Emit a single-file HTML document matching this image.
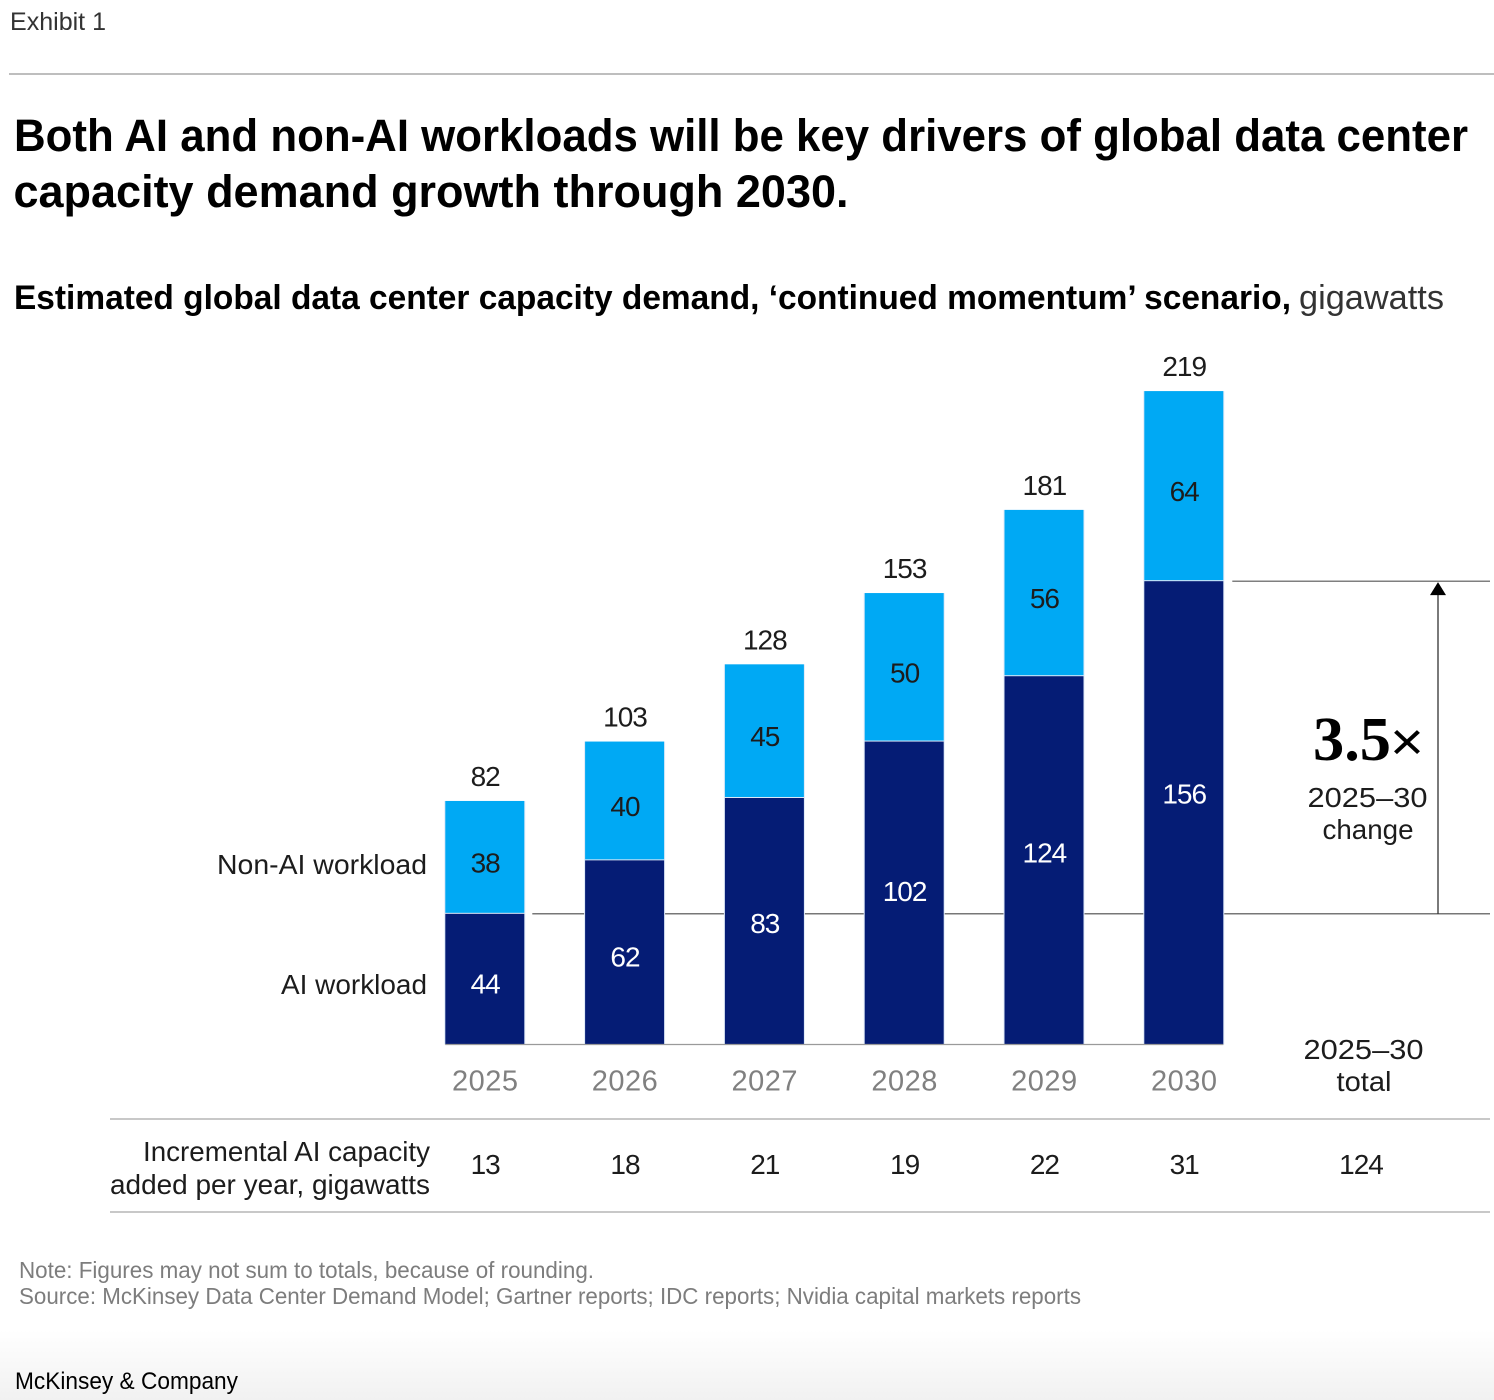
<!DOCTYPE html>
<html lang="en">
<head>
<meta charset="utf-8">
<title>Exhibit 1</title>
<style>
html,body{margin:0;padding:0;background:#fff;width:1494px;height:1400px;overflow:hidden}
svg{display:block;font-family:"Liberation Sans",sans-serif}
text{fill:#1c1c1c}
.num{font-size:28px;letter-spacing:-1px;text-anchor:middle}
.lbl{font-size:28px}
</style>
</head>
<body>
<svg id="chart" width="1494" height="1400" viewBox="0 0 1494 1400" xmlns="http://www.w3.org/2000/svg">
<defs>
<linearGradient id="fade" x1="0" y1="0" x2="0" y2="1"><stop offset="0" stop-color="#fff"/><stop offset="1" stop-color="#f1f1f1"/></linearGradient>
</defs>
<rect x="0" y="1330" width="1494" height="70" fill="url(#fade)"/>
<text x="10" y="30" font-size="25" textLength="96" lengthAdjust="spacingAndGlyphs" style="fill:#333">Exhibit 1</text>
<line x1="9" x2="1494" y1="74" y2="74" stroke="#a8a8a8" stroke-width="1.5"/>
<text x="14" y="151" font-size="45" font-weight="700" textLength="1454" lengthAdjust="spacingAndGlyphs" style="fill:#000">Both AI and non-AI workloads will be key drivers of global data center</text>
<text x="13.5" y="207" font-size="45" font-weight="700" textLength="835" lengthAdjust="spacingAndGlyphs" style="fill:#000">capacity demand growth through 2030.</text>
<text x="14" y="309" font-size="34" font-weight="700" textLength="1277" lengthAdjust="spacingAndGlyphs" style="fill:#000">Estimated global data center capacity demand, ‘continued momentum’ scenario,</text>
<text x="1299" y="309" font-size="34" textLength="145" lengthAdjust="spacingAndGlyphs" style="fill:#333">gigawatts</text>

<g id="reference-lines"></g>
<g id="bars"></g>
<g id="labels"></g>

<text class="lbl" x="427" y="874" text-anchor="end" textLength="210" lengthAdjust="spacingAndGlyphs">Non-AI workload</text>
<text class="lbl" x="427" y="994" text-anchor="end" textLength="146" lengthAdjust="spacingAndGlyphs">AI workload</text>

<text x="1313" y="760" font-size="62" font-weight="700" textLength="78" lengthAdjust="spacingAndGlyphs" style="font-family:'Liberation Serif',serif;fill:#000">3.5</text>
<text x="1390" y="760" font-size="54" textLength="34" lengthAdjust="spacingAndGlyphs" style="fill:#000">×</text>
<text class="lbl" x="1367.5" y="807" text-anchor="middle" textLength="120" lengthAdjust="spacingAndGlyphs">2025–30</text>
<text class="lbl" x="1368" y="839" text-anchor="middle" textLength="91" lengthAdjust="spacingAndGlyphs">change</text>

<text class="lbl" x="1363.5" y="1059" text-anchor="middle" textLength="120" lengthAdjust="spacingAndGlyphs">2025–30</text>
<text class="lbl" x="1364" y="1091" text-anchor="middle" textLength="55" lengthAdjust="spacingAndGlyphs">total</text>

<line x1="110" x2="1490" y1="1119" y2="1119" stroke="#b5b5b5" stroke-width="1.5"/>
<line x1="110" x2="1490" y1="1212" y2="1212" stroke="#b5b5b5" stroke-width="1.5"/>
<text class="lbl" x="430" y="1161" text-anchor="end" textLength="287" lengthAdjust="spacingAndGlyphs">Incremental AI capacity</text>
<text class="lbl" x="430" y="1194" text-anchor="end" textLength="320" lengthAdjust="spacingAndGlyphs">added per year, gigawatts</text>
<text class="num" x="1361" y="1174">124</text>

<text x="19" y="1278" font-size="23" textLength="575" lengthAdjust="spacingAndGlyphs" style="fill:#7d7d7d">Note: Figures may not sum to totals, because of rounding.</text>
<text x="19" y="1304" font-size="23" textLength="1062" lengthAdjust="spacingAndGlyphs" style="fill:#7d7d7d">Source: McKinsey Data Center Demand Model; Gartner reports; IDC reports; Nvidia capital markets reports</text>
<text x="15" y="1389" font-size="24" textLength="223" lengthAdjust="spacingAndGlyphs" style="fill:#000">McKinsey &amp; Company</text>
</svg>
<script>
const years = ['2025', '2026', '2027', '2028', '2029', '2030'];
const aiWorkload = [44, 62, 83, 102, 124, 156];
const nonAiWorkload = [38, 40, 45, 50, 56, 64];
const totals = [82, 103, 128, 153, 181, 219];
const incrementalCapacity = [13, 18, 21, 19, 22, 31];

const NS = 'http://www.w3.org/2000/svg';
const BASE_Y = 1044.5;
const UNIT = 2.97;
const BAR_W = 79;
const FIRST_X = 445.3;
const STEP = 139.8;
const xLeft = function (i) { return FIRST_X + STEP * i; };
const xCenter = function (i) { return xLeft(i) + BAR_W / 2 + 0.4; };
const yScale = function (v) { return BASE_Y - v * UNIT; };

function make(tag, attrs, parent, txt) {
  const el = document.createElementNS(NS, tag);
  Object.keys(attrs).forEach(function (k) { el.setAttribute(k, attrs[k]); });
  if (txt !== undefined) el.textContent = txt;
  parent.appendChild(el);
  return el;
}

const barsG = document.getElementById('bars');
const labelsG = document.getElementById('labels');
const refG = document.getElementById('reference-lines');

const startY = yScale(aiWorkload[0]);
const endY = yScale(aiWorkload[aiWorkload.length - 1]);
const lastRight = xLeft(years.length - 1) + BAR_W;
const arrowX = 1438;

const startLine = make('line', { x1: xLeft(0) + BAR_W + 8, x2: 1490, y1: startY, y2: startY, stroke: '#4a4a4a', 'stroke-width': 1.2 }, refG);


const endLine = make('line', { x1: lastRight + 9, x2: 1490, y1: endY, y2: endY, stroke: '#555', 'stroke-width': 1.2 }, refG);


const arrowShaft = make('line', { x1: arrowX, x2: arrowX, y1: startY, y2: endY + 10, stroke: '#333', 'stroke-width': 1.3 }, refG);


const arrowHead = make('path', { d: 'M' + arrowX + ' ' + (endY + 1) + 'l8 13h-16z', fill: '#000' }, refG);



// AI labels sit progressively above the segment midpoint as the bars grow
function aiLabelY(v) {
  const t = (v - aiWorkload[0]) / (aiWorkload[aiWorkload.length - 1] - aiWorkload[0]);
  return (yScale(v) + BASE_Y) / 2 + 4.5 - t * t * 24 + 10;
}

years.forEach(function (year, i) {
  const ai = aiWorkload[i];
  const non = nonAiWorkload[i];
  const x = xLeft(i);
  const cx = xCenter(i);
  const yAi = yScale(ai);
  const yTop = yScale(ai + non);

  const halo = make('rect', { x: x - 1, y: yTop, width: BAR_W + 2, height: BASE_Y - yTop, fill: '#dfeaf8' }, barsG);
  
  

  const aiBar = make('rect', { x: x, y: yAi, width: BAR_W, height: BASE_Y - yAi, fill: '#051C75' }, barsG);
  
  

  const nonBar = make('rect', { x: x, y: yTop, width: BAR_W, height: yAi - yTop - 1, fill: '#00A9F4' }, barsG);
  
  

  const totalLabel = make('text', { x: cx, y: yTop - 15, class: 'num' }, labelsG, totals[i]);
  
  

  const nonLabel = make('text', { x: cx, y: (yTop + yAi) / 2 + 15, class: 'num' }, labelsG, non);
  
  

  const aiLabel = make('text', { x: cx, y: aiLabelY(ai), class: 'num', style: 'fill:#fff' }, labelsG, ai);
  
  

  const yearLabel = make('text', { x: cx, y: 1090.5, class: 'num', style: 'fill:#808080;font-size:29px;letter-spacing:0.5px' }, labelsG, year);
  
  

  const capacity = make('text', { x: cx, y: 1174, class: 'num' }, labelsG, incrementalCapacity[i]);
  
  
});

const axisLine = make('line', { x1: FIRST_X, x2: lastRight, y1: BASE_Y, y2: BASE_Y, stroke: '#9a9a9a', 'stroke-width': 1.2 }, barsG);


</script>
</body>
</html>
